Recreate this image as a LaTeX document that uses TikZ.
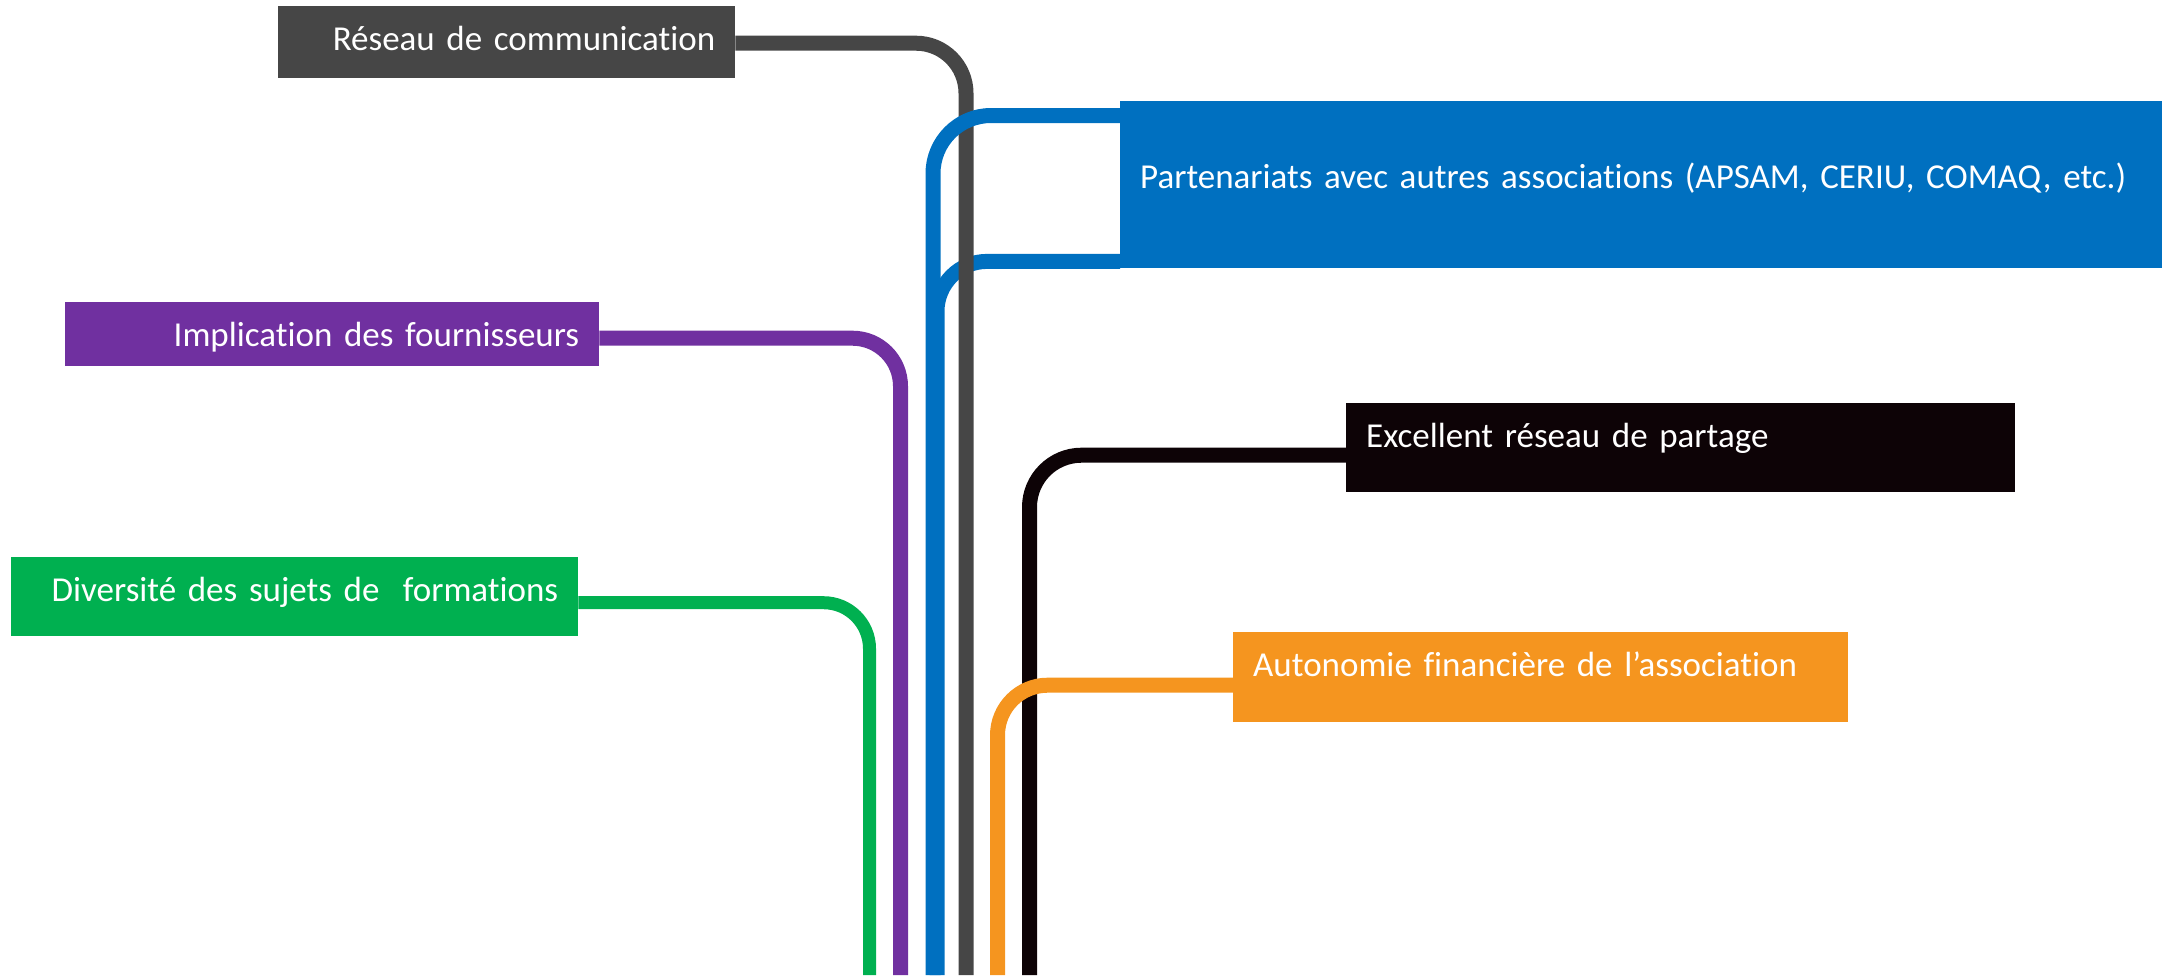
\documentclass[tikz,border=0pt]{standalone}
\usepackage{fontspec}
\setmainfont{Carlito}[Ligatures=NoCommon]
\usepackage{tikz}

\definecolor{cgray}{HTML}{464646}
\definecolor{cblue}{HTML}{0070C0}
\definecolor{cpurple}{HTML}{7030A0}
\definecolor{cgreen}{HTML}{00B050}
\definecolor{cblack}{HTML}{0D0306}
\definecolor{corange}{HTML}{F5951F}

\newcommand{\boxfont}{\fontsize{35}{42}\selectfont\spaceskip 6.5pt\relax}

\begin{document}
\begin{tikzpicture}[x=1pt,y=1pt]
    \tikzstyle{every node}+=[inner sep=0pt]
    \tikzstyle{tbox}=[rectangle, text=white, font=\boxfont, inner xsep=20pt, text height=44pt, anchor=north west]
    \tikzstyle{link}=[line width=15pt, rounded corners=50pt]
    \useasboundingbox (0,0) rectangle (2169,-975);
    \node [tbox, fill=cgray, minimum width=457pt, text width=417pt, text depth=28pt, align=right] (reseau) at (278,-6) {Réseau de communication};
    \node [tbox, fill=cblue, minimum width=1042pt, text width=1002pt, text height=87pt, text depth=80pt, align=left] (partenariats) at (1120,-101) {Partenariats avec autres associations (APSAM, CERIU, COMAQ, etc.)};
    \node [tbox, fill=cpurple, minimum width=534pt, text width=494pt, text depth=20pt, align=right] (fournisseurs) at (65,-302) {Implication des fournisseurs};
    \node [tbox, fill=cgreen, minimum width=567pt, text width=527pt, text depth=35pt, align=right] (formations) at (11,-557) {Diversité des sujets de~~formations};
    \node [tbox, fill=cblack, minimum width=669pt, text width=629pt, text depth=45pt, align=left] (partage) at (1346,-403) {Excellent réseau de partage};
    \node [tbox, fill=corange, minimum width=615pt, text width=575pt, text depth=46pt, align=left] (autonomie) at (1233,-632) {Autonomie financière de l’association};
    % free ends at the bottom edge
    \coordinate (greenbot) at (869.5,-975);
    \coordinate (purplebot) at (900.5,-975);
    \coordinate (bluebot) at (933,-975);
    \coordinate (bluebotb) at (937,-975);
    \coordinate (graybot) at (966,-975);
    \coordinate (orangebot) at (997.5,-975);
    \coordinate (blackbot) at (1029.5,-975);
    \draw [link, cblue] ([yshift=7pt]partenariats.south west) -| (bluebotb);
    \draw [link, cgray] ([yshift=-1pt]reseau.east) -| (graybot);
    \draw [link, cblue, rounded corners=58pt] ([yshift=-14.5pt]partenariats.north west) -| (bluebot);
    \draw [link, cpurple, rounded corners=48pt] ([yshift=-4pt]fournisseurs.east) -| (purplebot);
    \draw [link, cgreen, line width=13pt, rounded corners=46pt] ([yshift=-6pt]formations.east) -| (greenbot);
    \draw [link, cblack, rounded corners=52pt] ([yshift=-7.5pt]partage.west) -| (blackbot);
    \draw [link, corange] ([yshift=-8pt]autonomie.west) -| (orangebot);
\end{tikzpicture}
\end{document}
